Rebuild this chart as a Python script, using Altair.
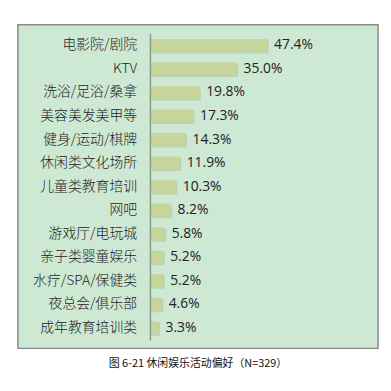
import altair as alt
import pandas as pd

categories = ["电影院/剧院", "KTV", "洗浴/足浴/桑拿", "美容美发美甲等", "健身/运动/棋牌",
              "休闲类文化场所", "儿童类教育培训", "网吧", "游戏厅/电玩城", "亲子类婴童娱乐",
              "水疗/SPA/保健类", "夜总会/俱乐部", "成年教育培训类"]
values = [47.4, 35.0, 19.8, 17.3, 14.3, 11.9, 10.3, 8.2, 5.8, 5.2, 5.2, 4.6, 3.3]
caption = "图 6-21 休闲娱乐活动偏好（N=329）"

df = pd.DataFrame({"cat": categories, "value": values})

xscale = alt.Scale(domain=[-53.8, 92.4], nice=False, zero=False)
yscale = alt.Scale(paddingInner=0.45, paddingOuter=0.6)

base = alt.Chart(df).transform_calculate(
    label="format(datum.value, '.1f') + '%'"
)

ycat = alt.Y("cat:N", sort=categories, scale=yscale,
             axis=alt.Axis(title=None, domain=False, ticks=False, offset=-134,
                           labelPadding=14, labelFont="Noto Sans CJK SC",
                           labelFontSize=14, labelFontWeight=300,
                           labelColor="#222222", labelLimit=200))

shadow = base.mark_bar(color="#9aa88a", opacity=0.35, xOffset=1.5, yOffset=1.5).encode(
    x=alt.X("value:Q", scale=xscale, axis=None),
    y=ycat,
)

bars = base.mark_bar(color="#c6d69b").encode(
    x=alt.X("value:Q", scale=xscale, axis=None),
    y=ycat,
)

texts = base.mark_text(align="left", baseline="middle", dx=7, font="Open Sans",
                       fontSize=14, color="#222222").encode(
    x=alt.X("value:Q", scale=xscale, axis=None),
    y=alt.Y("cat:N", sort=categories, scale=yscale),
    text="label:N",
)

axisline = alt.Chart(pd.DataFrame({"v": [0]})).mark_rule(color="#8c9a8c", strokeWidth=1.5).encode(
    x=alt.X("v:Q", scale=xscale, axis=None),
    y=alt.value(9),
    y2=alt.value(319),
)

chart = alt.layer(shadow, bars, axisline, texts).properties(
    width=364, height=327,
    padding={"left": 10, "top": 15, "right": 5, "bottom": 35},
    autosize=alt.AutoSizeParams(type="none"),
    background="white",
    title=alt.Title(caption, orient="bottom", anchor="middle", offset=10,
                    font="Noto Sans CJK SC", fontSize=11, fontWeight="normal", color="#111111"),
).configure_view(fill="#cde8d3", stroke="#8a8a8a", strokeWidth=1.5)

chart.save("out.html", embed_options={"renderer": "svg", "actions": False})
